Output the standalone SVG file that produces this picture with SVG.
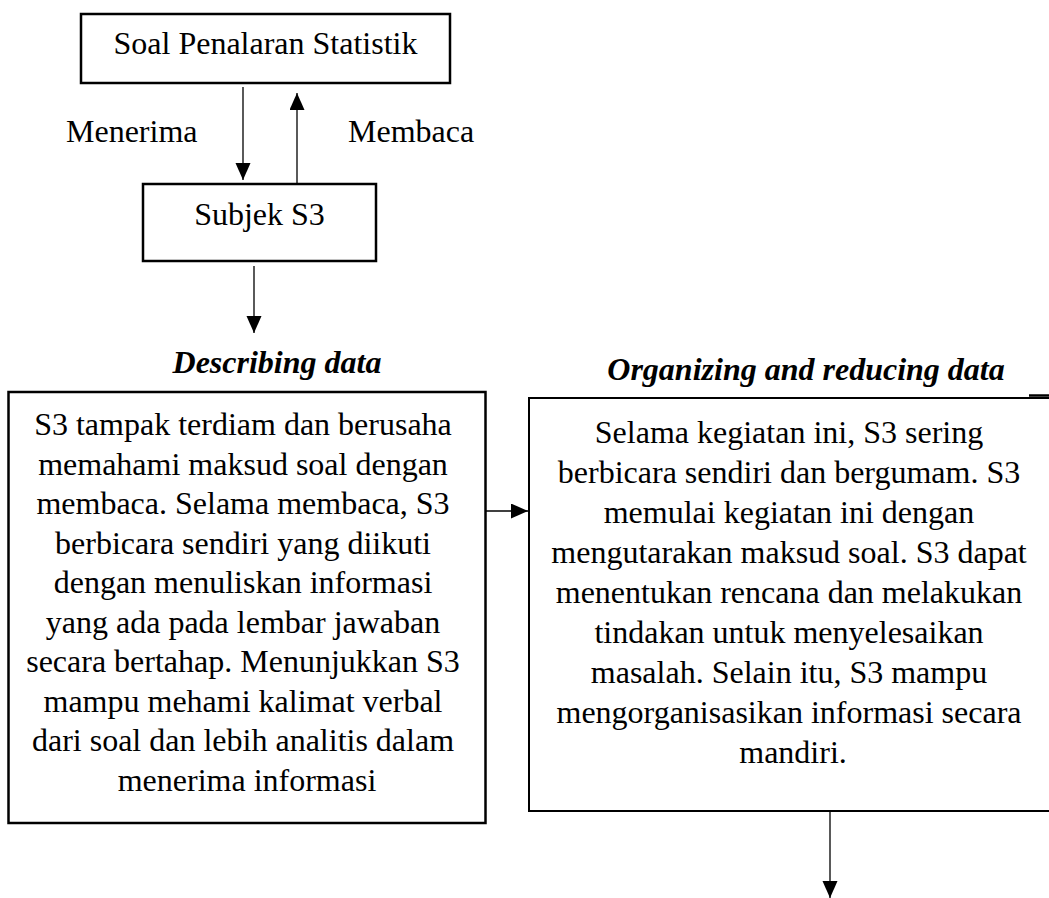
<svg xmlns="http://www.w3.org/2000/svg" width="1049" height="898" viewBox="0 0 1049 898">
  <style>
    .box { fill: #fff; stroke: #000; stroke-width: 2.5; }
    .txt { font-family: "Liberation Serif", "Times New Roman", serif; font-size: 32px; fill: #000; text-anchor: middle; }
    .lbl { font-family: "Liberation Serif", "Times New Roman", serif; font-size: 32px; fill: #000; }
    .head { font-family: "Liberation Serif", "Times New Roman", serif; font-size: 32px; font-weight: bold; font-style: italic; fill: #000; text-anchor: middle; }
    .conn { stroke: #000; stroke-width: 1.3; fill: none; marker-end: url(#arrow); }
  </style>
  <defs>
    <marker id="arrow" markerUnits="userSpaceOnUse" markerWidth="18" markerHeight="16" refX="17" refY="7.5" orient="auto">
      <path d="M0,0 L17,7.5 L0,15 Z" fill="#000"/>
    </marker>
  </defs>
  <rect width="1049" height="898" fill="#fff"/>

  <g id="soal">
    <rect class="box" x="81" y="14" width="369" height="69"/>
    <text class="txt" x="265.5" y="54">Soal Penalaran Statistik</text>
  </g>

  <g id="subjek">
    <rect class="box" x="143" y="184" width="233" height="77"/>
    <text class="txt" x="259.5" y="225">Subjek S3</text>
  </g>

  <g id="describing">
    <text class="head" x="277" y="373">Describing data</text>
    <rect class="box" x="8.5" y="392" width="477" height="431"/>
    <text class="txt">
      <tspan x="247" y="435">S3 tampak terdiam dan berusaha</tspan>
      <tspan x="247" y="474.5">memahami maksud soal dengan</tspan>
      <tspan x="247" y="514">membaca. Selama membaca, S3</tspan>
      <tspan x="247" y="553.5">berbicara sendiri yang diikuti</tspan>
      <tspan x="247" y="593">dengan menuliskan informasi</tspan>
      <tspan x="247" y="632.5">yang ada pada lembar jawaban</tspan>
      <tspan x="247" y="672">secara bertahap. Menunjukkan S3</tspan>
      <tspan x="247" y="711.5">mampu mehami kalimat verbal</tspan>
      <tspan x="247" y="751">dari soal dan lebih analitis dalam</tspan>
      <tspan x="247" y="790.5">menerima informasi</tspan>
    </text>
  </g>

  <g id="organizing">
    <text class="head" x="806" y="380">Organizing and reducing data</text>
    <rect class="box" x="529" y="398" width="530" height="413" style="stroke-width:2"/>
    <line x1="1029" y1="395.5" x2="1049" y2="395.5" stroke="#000" stroke-width="2.5"/>
    <text class="txt">
      <tspan x="793" y="443">Selama kegiatan ini, S3 sering</tspan>
      <tspan x="793" y="483">berbicara sendiri dan bergumam. S3</tspan>
      <tspan x="793" y="523">memulai kegiatan ini dengan</tspan>
      <tspan x="793" y="563">mengutarakan maksud soal. S3 dapat</tspan>
      <tspan x="793" y="603">menentukan rencana dan melakukan</tspan>
      <tspan x="793" y="643">tindakan untuk menyelesaikan</tspan>
      <tspan x="793" y="683">masalah. Selain itu, S3 mampu</tspan>
      <tspan x="793" y="723">mengorganisasikan informasi secara</tspan>
      <tspan x="793" y="763">mandiri.</tspan>
    </text>
  </g>

  <g id="edge-labels">
    <text class="lbl" x="66" y="142">Menerima</text>
    <text class="lbl" x="348" y="142">Membaca</text>
  </g>

  <g id="connectors">
    <line class="conn" x1="243" y1="87" x2="243" y2="180"/>
    <line class="conn" x1="297" y1="184" x2="297" y2="93"/>
    <line class="conn" x1="254" y1="266" x2="254" y2="333"/>
    <line class="conn" x1="485" y1="511" x2="528" y2="511"/>
    <line class="conn" x1="830" y1="812" x2="830" y2="898"/>
  </g>
</svg>
